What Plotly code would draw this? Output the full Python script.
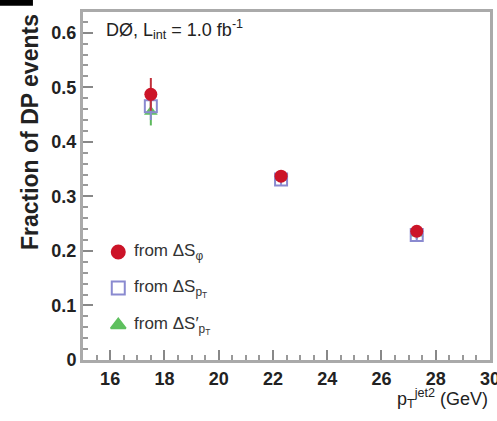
import plotly.graph_objects as go

pt = [17.5, 22.3, 27.3]
frac_phi = [0.487, 0.337, 0.236]
err_phi = [0.03, 0.008, 0.008]
frac_pt = [0.465, 0.331, 0.229]
err_pt = [0.025, 0.01, 0.012]
frac_ptp = [0.455, 0.334, 0.232]
err_ptp = [0.025, 0.008, 0.01]

leg_x = [16.3]
leg_y = [0.198, 0.132, 0.064]
leg_text = ["from ΔS<sub>φ</sub>", "from ΔS<sub>p<sub>T</sub></sub>", "from ΔS′<sub>p<sub>T</sub></sub>"]

font = "Liberation Sans, Arial, sans-serif"
fig = go.Figure()

fig.add_trace(go.Scatter(x=pt, y=frac_ptp, mode="markers",
    error_y=dict(type="data", array=err_ptp, color="#5cb85c", thickness=2, width=0),
    marker=dict(symbol="triangle-up", size=12, color="#5ec05e")))
fig.add_trace(go.Scatter(x=pt, y=frac_pt, mode="markers",
    error_y=dict(type="data", array=err_pt, color="#8a8ad0", thickness=2, width=0),
    marker=dict(symbol="square-open", size=12, color="#8a8ad0", line=dict(width=2))))
fig.add_trace(go.Scatter(x=pt, y=frac_phi, mode="markers",
    error_y=dict(type="data", array=err_phi, color="#c0303a", thickness=2, width=0),
    marker=dict(symbol="circle", size=13, color="#cc1428")))

symbols = ["circle", "square-open", "triangle-up"]
colors = ["#cc1428", "#8a8ad0", "#5ec05e"]
for i in range(3):
    fig.add_trace(go.Scatter(x=leg_x, y=[leg_y[i]], mode="markers",
        marker=dict(symbol=symbols[i], size=13, color=colors[i], line=dict(width=2, color=colors[i]))))
    fig.add_annotation(x=16.8, y=leg_y[i], text=leg_text[i], showarrow=False,
        xanchor="left", yanchor="middle", font=dict(family=font, size=17, color="#333"))

fig.add_annotation(xref="paper", yref="paper", x=0.052, y=0.95, xanchor="left", yanchor="middle",
    text="DØ, L<sub>int</sub> = 1.0 fb<sup>-1</sup>", showarrow=False,
    font=dict(family=font, size=18, color="#222"))

fig.add_annotation(xref="paper", yref="paper", x=1.0, y=-0.068, xanchor="right", yanchor="top",
    text="p<sub>T</sub><sup>jet2</sup> (GeV)", showarrow=False,
    font=dict(family=font, size=18, color="#222"))

fig.add_annotation(xref="paper", yref="paper", x=-0.13, y=1.0, xanchor="center", yanchor="top",
    text="<b>Fraction of DP events</b>", textangle=-90, showarrow=False,
    font=dict(family=font, size=23, color="#222"))

fig.add_shape(type="rect", xref="paper", yref="paper", x0=-0.204, x1=-0.123, y0=1.018, y1=1.035,
    fillcolor="black", line=dict(width=0))

axis_common = dict(showgrid=False, zeroline=False, showline=True, linecolor="#aaa", linewidth=3,
    mirror=True, ticks="inside", ticklen=10, tickcolor="#888", tickwidth=1.5, automargin=False,
    ticklabeloverflow="allow",
    tickfont=dict(family=font, size=18, color="#222", weight="bold"))

fig.update_layout(
    width=497, height=421, showlegend=False,
    margin=dict(l=83, r=7, t=12, b=61),
    plot_bgcolor="white", paper_bgcolor="white",
    xaxis=dict(range=[15, 30], tickvals=[16, 18, 20, 22, 24, 26, 28, 30],
        minor=dict(dtick=0.5, ticks="inside", ticklen=5, tickcolor="#999"), **axis_common),
    yaxis=dict(range=[0, 0.638], tickvals=[0, 0.1, 0.2, 0.3, 0.4, 0.5, 0.6],
        ticktext=["0", "0.1", "0.2", "0.3", "0.4", "0.5", "0.6"],
        minor=dict(dtick=0.02, ticks="inside", ticklen=5, tickcolor="#999"),
        **axis_common),
)

fig.write_html("out.html", config={"displayModeBar": False},
               post_script="document.body.style.margin='0';document.body.style.overflow='hidden';")
